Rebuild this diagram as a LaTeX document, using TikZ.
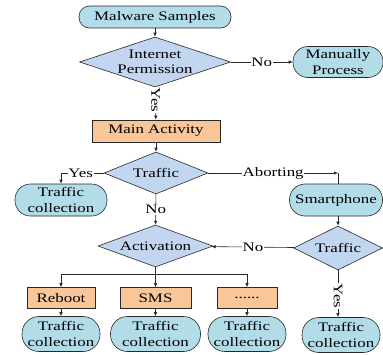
\documentclass[tikz,border=0pt]{standalone}
\usepackage{fontspec}
\setmainfont{Liberation Serif}[FakeStretch=1.3]
\usetikzlibrary{shapes.geometric,arrows.meta}
\definecolor{pillc}{RGB}{178,220,232}
\definecolor{diac}{RGB}{195,214,240}
\definecolor{boxc}{RGB}{248,198,152}
\definecolor{edgec}{RGB}{40,40,40}
\begin{document}
\begin{tikzpicture}[x=1pt,y=-1pt,
  txt/.style={font=\fontsize{13}{15.4}\selectfont},
  base/.style={txt, draw=edgec, line width=0.6pt, inner sep=0pt, align=center},
  pill/.style={base, rectangle, fill=pillc, rounded corners=#1},
  dia/.style={base, diamond, fill=diac, aspect=#1},
  box/.style={base, rectangle, fill=boxc},
  conn/.style={draw=edgec, line width=0.6pt, -{Latex[length=4pt,width=3.5pt]}},
  plain/.style={draw=edgec, line width=0.6pt},
  lab/.style={txt, fill=white, inner sep=0.8pt}]
\useasboundingbox (0,0) rectangle (383,354);
% nodes
\node[pill=10.5pt, minimum width=152pt, minimum height=22pt] (ms) at (155,17) {Malware Samples};
\node[dia=3.02, minimum width=151pt, minimum height=50pt,
      label={[txt, align=center]center:Internet\\Permission}] (ip) at (155,62) {};
\node[pill=15pt, minimum width=90pt, minimum height=31pt] (mp) at (338,62) {Manually\\Process};
\node[box, minimum width=128pt, minimum height=22pt] (ma) at (156,131) {Main Activity};
\node[dia=2.48, minimum width=104pt, minimum height=42pt] (tr1) at (156,173) {Traffic};
\node[pill=15.5pt, minimum width=92pt, minimum height=32pt] (tc1) at (61,200) {Traffic\\collection};
\node[pill=15.5pt, minimum width=93pt, minimum height=32pt] (sp) at (336,200) {Smartphone};
\node[dia=2.74, minimum width=115pt, minimum height=42pt] (act) at (155.5,246) {Activation};
\node[dia=2.02, minimum width=89pt, minimum height=44pt] (tr2) at (338,248) {Traffic};
\node[box, minimum width=68pt, minimum height=21pt] (rb) at (61,298) {Reboot};
\node[box, minimum width=71pt, minimum height=21pt] (sms) at (155.5,298) {SMS};
\node[box, minimum width=60pt, minimum height=21pt] (dots) at (247,298) {......};
\node[pill=17pt, minimum width=78pt, minimum height=35pt] (tc2) at (61,334) {Traffic\\collection};
\node[pill=17pt, minimum width=90pt, minimum height=35pt] (tc3) at (155.5,334) {Traffic\\collection};
\node[pill=17pt, minimum width=78pt, minimum height=35pt] (tc4) at (247,334) {Traffic\\collection};
\node[pill=17pt, minimum width=78pt, minimum height=35pt] (tc5) at (341,335) {Traffic\\collection};
\coordinate (ab) at (338,173);
\coordinate (br) at (155.5,274);
% connectors
\draw[conn] (ms) -- (ip);
\draw[conn] (ip) -- node[lab]{No} (mp);
\draw[conn] (ip) -- node[lab, rotate=-90, pos=0.4]{Yes} (ma);
\draw[conn] (ma) -- (tr1);
\draw[conn] (tr1.west) -| node[lab, pos=0.27]{Yes} (tc1.north);
\draw[conn] (tr1) -- node[lab]{No} (act);
\draw[conn] (tr1.east) -- node[lab]{Aborting} (ab);
\draw[plain] (ab) -- (ab |- sp.north);
\draw[conn] (tr2 |- sp.south) -- (tr2.north);
\draw[conn] (tr2) -- node[lab]{No} (act);
\draw[conn] (tr2.south) -- node[lab, rotate=-90, pos=0.55]{Yes} (tr2.south |- tc5.north);
\draw[conn] (act.south) -- (sms.north);
\draw[conn] (br) -| (rb.north);
\draw[conn] (br) -| (dots.north);
\draw[conn] (rb) -- (tc2);
\draw[conn] (sms) -- (tc3);
\draw[conn] (dots) -- (tc4);
\end{tikzpicture}
\end{document}
